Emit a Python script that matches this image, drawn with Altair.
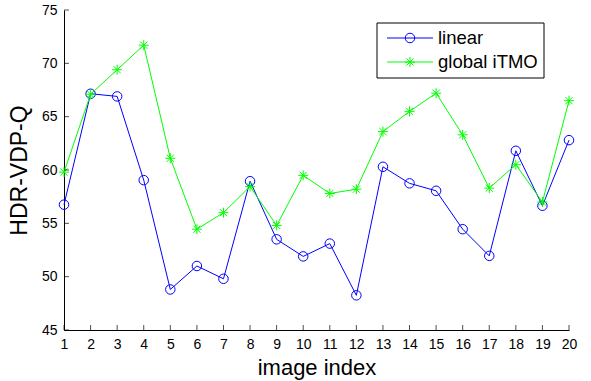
import altair as alt
import pandas as pd

# ---- data ----
image_index = list(range(1, 21))
linear = [56.75, 67.15, 66.9, 59.05, 48.8, 51.0, 49.8, 58.95, 53.5, 51.9,
          53.1, 48.25, 60.3, 58.75, 58.05, 54.45, 51.95, 61.8, 56.65, 62.8]
global_itmo = [59.8, 67.1, 69.4, 71.7, 61.1, 54.45, 56.0, 58.45, 54.8, 59.5,
               57.8, 58.2, 63.6, 65.5, 67.2, 63.3, 58.3, 60.5, 57.0, 66.5]
y_ticks = [45, 50, 55, 60, 65, 70, 75]
series_names = ["linear", "global iTMO"]
series_colors = ["#0000FF", "#00FF00"]

FONT = "Liberation Sans"
ASTERISK = "M-1,0L1,0M0,-1L0,1M-0.72,-0.72L0.72,0.72M-0.72,0.72L0.72,-0.72"

df_lin = pd.DataFrame({"idx": image_index, "val": linear})
df_itmo = pd.DataFrame({"idx": image_index, "val": global_itmo})

xscale = alt.Scale(domain=[1, 20], nice=False, zero=False)
yscale = alt.Scale(domain=[45, 75], nice=False, zero=False)

xaxis = alt.Axis(values=image_index, format="d", grid=False, ticks=False, tickSize=0,
                 domainColor="black", domainWidth=1, labelFont=FONT, labelFontSize=14,
                 labelColor="black", labelPadding=7, titleFont=FONT, titleFontSize=22,
                 titleFontWeight="normal", titleColor="black", titlePadding=6,
                 labelFlush=False, labelOverlap=False)
yaxis = alt.Axis(values=y_ticks, grid=False, ticks=False, tickSize=0,
                 domainColor="black", domainWidth=1, labelFont=FONT, labelFontSize=14,
                 labelColor="black", labelPadding=7, titleFont=FONT, titleFontSize=23,
                 titleFontWeight="normal", titleColor="black", titlePadding=10,
                 labelFlush=False, labelOverlap=False)


def xenc():
    return alt.X("idx:Q", scale=xscale, title="image index", axis=xaxis)


def yenc():
    return alt.Y("val:Q", scale=yscale, title="HDR-VDP-Q", axis=yaxis)


base_lin = alt.Chart(df_lin)
base_itmo = alt.Chart(df_itmo)

line_lin = base_lin.mark_line(color=series_colors[0], strokeWidth=1).encode(x=xenc(), y=yenc())
pts_lin = base_lin.mark_point(shape="circle", filled=False, color=series_colors[0],
                              size=90, strokeWidth=1, opacity=1).encode(x=xenc(), y=yenc())
line_itmo = base_itmo.mark_line(color=series_colors[1], strokeWidth=1).encode(x=xenc(), y=yenc())
pts_itmo = base_itmo.mark_point(shape=ASTERISK, filled=False, color=series_colors[1],
                                size=100, strokeWidth=1, opacity=1).encode(x=xenc(), y=yenc())

# inward tick marks
xt = alt.Chart(pd.DataFrame({"idx": image_index, "val": [45] * len(image_index)})).mark_tick(
    orient="vertical", size=5, thickness=1, color="black", yOffset=-2.5).encode(x=xenc(), y=yenc())
yt = alt.Chart(pd.DataFrame({"idx": [1] * len(y_ticks), "val": y_ticks})).mark_tick(
    orient="horizontal", size=5, thickness=1, color="black", xOffset=2.5).encode(x=xenc(), y=yenc())

# legend drawn by hand
one = alt.Chart(pd.DataFrame({"a": [0]}))
leg_box = one.mark_rect(fill="white", stroke="black", strokeWidth=1).encode(
    x=alt.value(313), x2=alt.value(480), y=alt.value(13), y2=alt.value(68))
leg_l1 = one.mark_rule(color=series_colors[0], strokeWidth=1).encode(
    x=alt.value(323), x2=alt.value(369), y=alt.value(28))
leg_p1 = one.mark_point(shape="circle", filled=False, color=series_colors[0], size=90,
                        strokeWidth=1, opacity=1).encode(x=alt.value(346), y=alt.value(28))
leg_t1 = one.mark_text(text=series_names[0], align="left", baseline="middle", font=FONT,
                       fontSize=18.5, color="black").encode(x=alt.value(374), y=alt.value(28))
leg_l2 = one.mark_rule(color=series_colors[1], strokeWidth=1).encode(
    x=alt.value(323), x2=alt.value(369), y=alt.value(52))
leg_p2 = one.mark_point(shape=ASTERISK, filled=False, color=series_colors[1], size=100,
                        strokeWidth=1, opacity=1).encode(x=alt.value(346), y=alt.value(52))
leg_t2 = one.mark_text(text=series_names[1], align="left", baseline="middle", font=FONT,
                       fontSize=18.5, color="black").encode(x=alt.value(374), y=alt.value(52))

chart = alt.layer(line_lin, pts_lin, line_itmo, pts_itmo, xt, yt,
                  leg_box, leg_l1, leg_p1, leg_t1, leg_l2, leg_p2, leg_t2).properties(
    width=505, height=320,
    autosize=alt.AutoSizeParams(type="none"),
    padding={"left": 64, "top": 10, "right": 22, "bottom": 51},
    background="white",
).configure_view(stroke=None).configure_axis(labelOverlap=False)

chart.save("out.html", embed_options={"renderer": "svg", "actions": False})
